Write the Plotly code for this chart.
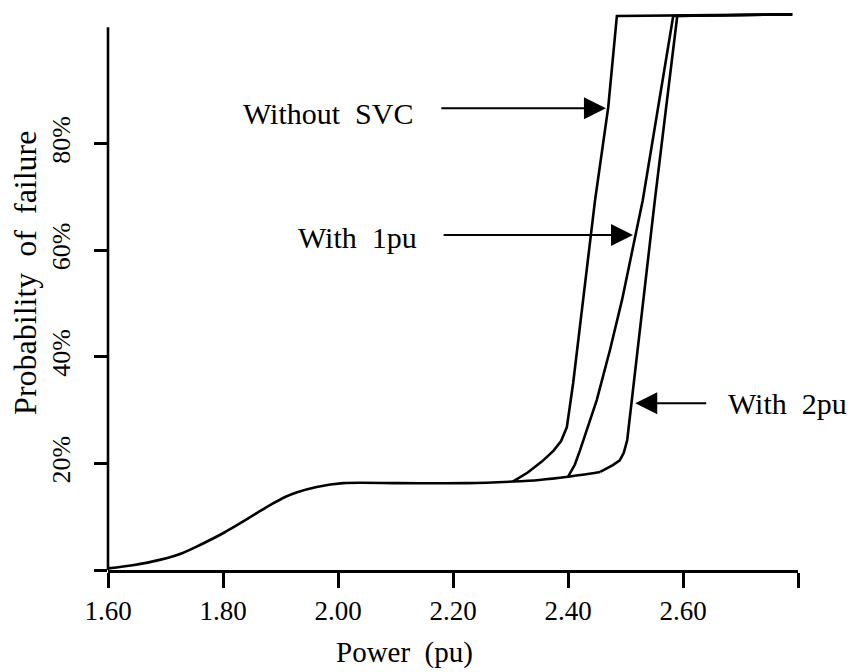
import plotly.graph_objects as go

# Shared low-load part and plateau of all three curves
base_power = [1.600, 1.643, 1.690, 1.730, 1.760, 1.800, 1.847, 1.868, 1.887,
              1.908, 1.929, 1.963, 2.009, 2.108, 2.224, 2.304, 2.350, 2.400,
              2.456]
base_prob = [0.3, 0.9, 1.9, 3.2, 4.7, 6.9, 9.9, 11.3, 12.5,
             13.7, 14.6, 15.6, 16.3, 16.3, 16.3, 16.6, 16.9, 17.5,
             18.4]

# Without SVC (leaves the plateau first)
nosvc_power = [2.304, 2.330, 2.355, 2.375, 2.388, 2.398, 2.409, 2.426, 2.447,
               2.470, 2.485, 2.790]
nosvc_prob = [16.6, 18.3, 20.4, 22.4, 24.2, 26.8, 35.1, 50.7, 69.4,
              86.9, 104.0, 104.3]

# With 1pu SVC
svc1_power = [2.400, 2.412, 2.421, 2.450, 2.473, 2.494, 2.530, 2.583, 2.790]
svc1_prob = [17.5, 19.8, 22.5, 31.9, 41.3, 50.7, 69.4, 104.0, 104.3]

# With 2pu SVC
svc2_power = [2.456, 2.478, 2.490, 2.497, 2.503, 2.511, 2.520, 2.530, 2.551,
              2.590, 2.790]
svc2_prob = [18.4, 19.7, 20.6, 22.0, 24.4, 31.9, 41.3, 50.7, 69.4,
             104.0, 104.3]

x_ticks = [1.6, 1.8, 2.0, 2.2, 2.4, 2.6, 2.8]
x_labels = ["1.60", "1.80", "2.00", "2.20", "2.40", "2.60", ""]
y_ticks = [0, 20, 40, 60, 80]
y_labels = ["", "20%", "40%", "60%", "80%"]

FONT = "Liberation Serif, Times New Roman, serif"
LINE = dict(color="black", width=2.6)

fig = go.Figure()
# smooth S-shaped common section
fig.add_trace(go.Scatter(
    x=base_power, y=base_prob, mode="lines",
    line=dict(LINE, shape="spline", smoothing=0.8),
    showlegend=False, hoverinfo="skip", cliponaxis=False,
))
# steep rising branches
for bx, by in [(nosvc_power, nosvc_prob), (svc1_power, svc1_prob),
               (svc2_power, svc2_prob)]:
    fig.add_trace(go.Scatter(
        x=bx, y=by, mode="lines", line=LINE,
        showlegend=False, hoverinfo="skip", cliponaxis=False,
    ))

# Labels with arrows pointing at each curve
labels = [
    # text, text x, text y, arrow tail x, arrow tip x, arrow y
    ("Without  SVC", 1.982, 85.7, 2.177, 2.466, 86.7),
    ("With  1pu", 2.034, 62.5, 2.181, 2.513, 62.9),
    ("With  2pu", 2.782, 31.3, 2.643, 2.517, 31.3),
]
for text, tx, ty, tail, tip, ay in labels:
    fig.add_annotation(x=tx, y=ty, xref="x", yref="y", text=text,
                       showarrow=False, xanchor="center", yanchor="middle",
                       font=dict(family=FONT, size=30, color="black"))
    fig.add_annotation(x=tip, y=ay, ax=tail, ay=ay, xref="x", yref="y",
                       axref="x", ayref="y", text="", showarrow=True,
                       arrowhead=2, arrowsize=2.2, arrowwidth=2,
                       arrowcolor="black", standoff=0, startstandoff=0)

# Axis titles
fig.add_annotation(x=0.430, y=-0.1805, xref="paper", yref="paper",
                   xanchor="center", yanchor="bottom",
                   text="Power  (pu)", showarrow=False,
                   font=dict(family=FONT, size=29, color="black"))
fig.add_annotation(x=-0.120, y=0.529, xref="paper", yref="paper",
                   xanchor="center", yanchor="middle",
                   text="Probability  of  failure", showarrow=False,
                   textangle=-90,
                   font=dict(family=FONT, size=32, color="black"))

# Vertical axis line stops a little below the 100% level
fig.add_shape(type="line", xref="paper", yref="y", x0=0, x1=0, y0=0, y1=101.9,
              line=LINE)

fig.update_xaxes(range=[1.6, 2.8], tickvals=x_ticks, ticktext=x_labels,
                 ticks="outside", ticklen=15, tickwidth=2.6, tickcolor="black",
                 showline=True, linecolor="black", linewidth=2.6,
                 showgrid=False, zeroline=False,
                 tickfont=dict(family=FONT, size=27, color="black"))
fig.update_yaxes(range=[0, 105.5], tickvals=y_ticks, ticktext=y_labels,
                 ticks="outside", ticklen=13, tickwidth=2.6, tickcolor="black",
                 showline=False, showgrid=False, zeroline=False,
                 tickangle=-90, ticklabelstandoff=14,
                 tickfont=dict(family=FONT, size=26, color="black"))

fig.update_layout(
    width=859, height=672,
    margin=dict(l=108, r=61, t=8, b=102),
    plot_bgcolor="white", paper_bgcolor="white",
)

fig.write_html("out.html")
